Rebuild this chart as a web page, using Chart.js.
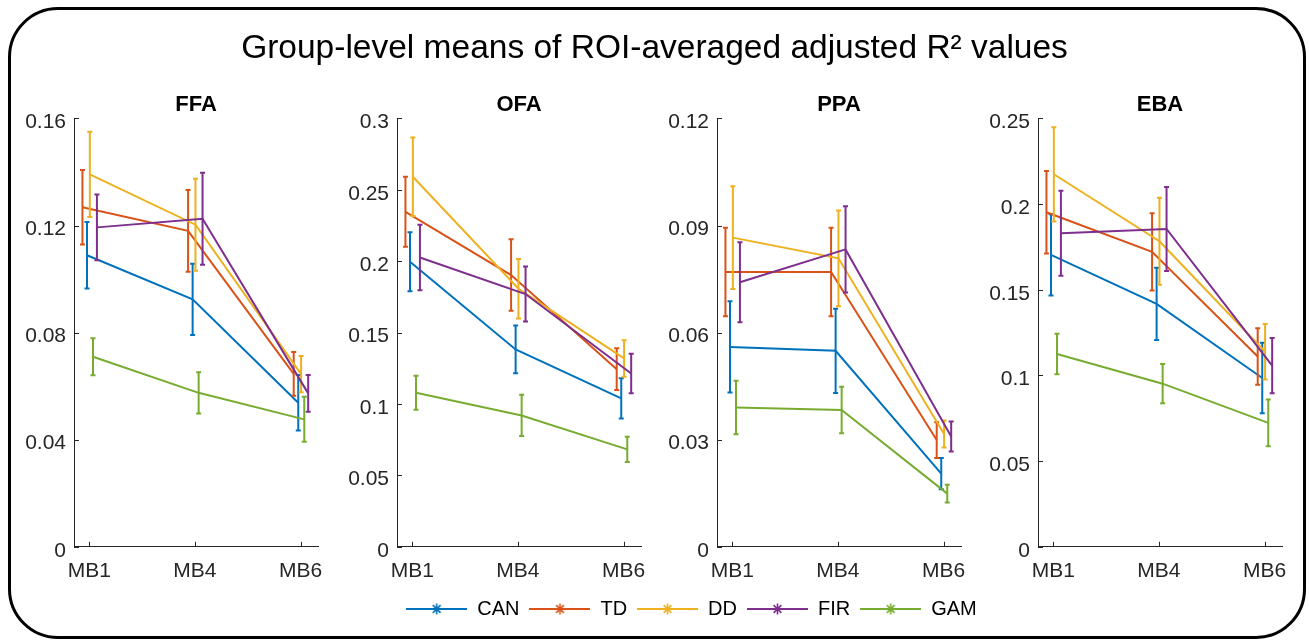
<!DOCTYPE html>
<html lang="en">
<head>
<meta charset="UTF-8">
<title>Group-level means of ROI-averaged adjusted R² values</title>
<script src="https://cdn.jsdelivr.net/npm/chart.js@4.4.1/dist/chart.umd.min.js"></script>
<style>
  body { margin: 0; background: #fff; }
  #figure { position: relative; width: 1309px; height: 640px; overflow: hidden; background: #fff; }
  #frame { position: absolute; left: 8px; top: 7px; width: 1298px; height: 632px; box-sizing: border-box;
           border: 3px solid #000; border-radius: 50px; }
  canvas { position: absolute; }
</style>
</head>
<body>
<div id="figure">
  <div id="frame"></div>
  <canvas id="titleChart" width="1309" height="100" style="left:0;top:0"></canvas>
  <canvas id="ffaChart" width="326" height="516"></canvas>
  <canvas id="ofaChart" width="326" height="516"></canvas>
  <canvas id="ppaChart" width="326" height="516"></canvas>
  <canvas id="ebaChart" width="326" height="516"></canvas>
  <canvas id="legendChart" width="615" height="120" style="left:384px;top:585px"></canvas>
</div>

<script>
const figureTitle = 'Group-level means of ROI-averaged adjusted R² values'
const conditions = ['MB1', 'MB4', 'MB6']
const methods = ['CAN', 'TD', 'DD', 'FIR', 'GAM']

// rows: CAN, TD, DD, FIR, GAM -- columns: MB1, MB4, MB6
const ffaMeans = [
    [0.1089, 0.0924, 0.0538],
    [0.1268, 0.1180, 0.0646],
    [0.1391, 0.1203, 0.0645],
    [0.1193, 0.1225, 0.0573],
    [0.0710, 0.0575, 0.0476]
]
const ffaErrors = [
    [0.0124, 0.0133, 0.0104],
    [0.0139, 0.0153, 0.0082],
    [0.0159, 0.0172, 0.0068],
    [0.0123, 0.0172, 0.0069],
    [0.0069, 0.0077, 0.0084]
]
const ofaMeans = [
    [0.1996, 0.1382, 0.1039],
    [0.2346, 0.1903, 0.1244],
    [0.2591, 0.1807, 0.1319],
    [0.2026, 0.1770, 0.1214],
    [0.1079, 0.0920, 0.0682]
]
const ofaErrors = [
    [0.0206, 0.0167, 0.0141],
    [0.0245, 0.0250, 0.0146],
    [0.0275, 0.0208, 0.0128],
    [0.0230, 0.0193, 0.0138],
    [0.0119, 0.0144, 0.0088]
]
const ppaMeans = [
    [0.0560, 0.0549, 0.0205],
    [0.0770, 0.0770, 0.0299],
    [0.0866, 0.0808, 0.0316],
    [0.0741, 0.0833, 0.0309],
    [0.0390, 0.0383, 0.0149]
]
const ppaErrors = [
    [0.0128, 0.0118, 0.0044],
    [0.0124, 0.0124, 0.0050],
    [0.0144, 0.0134, 0.0038],
    [0.0112, 0.0121, 0.0042],
    [0.0075, 0.0065, 0.0025]
]
const ebaMeans = [
    [0.1704, 0.1418, 0.0985],
    [0.1952, 0.1721, 0.1111],
    [0.2174, 0.1783, 0.1138],
    [0.1830, 0.1855, 0.1057],
    [0.1125, 0.0952, 0.0723]
]
const ebaErrors = [
    [0.0237, 0.0211, 0.0206],
    [0.0241, 0.0225, 0.0165],
    [0.0275, 0.0254, 0.0162],
    [0.0248, 0.0245, 0.0161],
    [0.0118, 0.0115, 0.0136]
]

const ffaTicks = [0, 0.04, 0.08, 0.12, 0.16]
const ofaTicks = [0, 0.05, 0.1, 0.15, 0.2, 0.25, 0.3]
const ppaTicks = [0, 0.03, 0.06, 0.09, 0.12]
const ebaTicks = [0, 0.05, 0.1, 0.15, 0.2, 0.25]

// styling
const FONT = "'Liberation Sans', Arial, Helvetica, sans-serif"
const AXIS = '#262626'
const colors = ['#0072BD', '#D95319', '#EDB120', '#7E2F8E', '#77AC30']
const xShift = [-0.022, -0.065, 0.005, 0.072, 0.035]   // small horizontal dodge per method
const Y_AXIS_W = 72

// vertical error bars with caps, drawn after each line
const errorBars = {
    id: 'errorBars',
    afterDatasetDraw(chart, args) {
        const ds = chart.data.datasets[args.index]
        if (!ds.errors) return
        const {x, y} = chart.scales
        const ctx = chart.ctx
        ctx.save()
        ctx.strokeStyle = ds.borderColor
        ctx.lineWidth = 2
        ctx.beginPath()
        ds.data.forEach((p, i) => {
            const px = x.getPixelForValue(p.x)
            const top = y.getPixelForValue(p.y + ds.errors[i])
            const bot = y.getPixelForValue(p.y - ds.errors[i])
            ctx.moveTo(px, top); ctx.lineTo(px, bot)
            ctx.moveTo(px - 2.5, top); ctx.lineTo(px + 2.5, top)
            ctx.moveTo(px - 2.5, bot); ctx.lineTo(px + 2.5, bot)
        })
        ctx.stroke()
        ctx.restore()
    }
}

// matlab style ticks pointing into the axes
const inwardTicks = {
    id: 'inwardTicks',
    afterDraw(chart) {
        const {ctx, chartArea: a, scales: {x, y}} = chart
        ctx.save()
        ctx.strokeStyle = AXIS
        ctx.lineWidth = 1
        ctx.beginPath()
        y.ticks.forEach(t => {
            const py = Math.round(y.getPixelForValue(t.value)) + 0.5
            ctx.moveTo(a.left, py); ctx.lineTo(a.left + 5, py)
        })
        x.ticks.forEach(t => {
            const px = Math.round(x.getPixelForValue(t.value)) + 0.5
            ctx.moveTo(px, a.bottom); ctx.lineTo(px, a.bottom - 5)
        })
        ctx.stroke()
        ctx.restore()
    }
}

function makePanel(id, name, means, errors, yTicks, axisLeft) {
    const canvas = document.getElementById(id)
    canvas.style.left = (axisLeft - Y_AXIS_W) + 'px'
    canvas.style.top = '80px'
    new Chart(canvas, {
        type: 'line',
        data: {
            datasets: methods.map((m, s) => ({
                label: m,
                data: conditions.map((c, i) => ({x: i + 1 + xShift[s], y: means[s][i]})),
                errors: errors[s],
                borderColor: colors[s],
                backgroundColor: colors[s],
                borderWidth: 2,
                pointRadius: 0,
                order: methods.length - s
            }))
        },
        options: {
            responsive: false,
            animation: false,
            events: [],
            layout: {padding: {left: 0, right: 10, top: 0, bottom: 0}},
            plugins: {
                legend: {display: false},
                tooltip: {enabled: false},
                title: {
                    display: true, text: name, fullSize: false, color: '#000',
                    font: {size: 22, weight: 'bold', family: FONT},
                    padding: {top: 12, bottom: 0}
                }
            },
            scales: {
                x: {
                    type: 'linear', min: 0.855, max: 3.165,
                    afterBuildTicks: sc => { sc.ticks = conditions.map((c, i) => ({value: i + 1})) },
                    afterFit: sc => { sc.paddingLeft = 0; sc.paddingRight = 0 },
                    ticks: {
                        callback: v => conditions[Math.round(v) - 1],
                        color: AXIS, font: {size: 21, family: FONT},
                        padding: 12, maxRotation: 0, autoSkip: false
                    },
                    grid: {display: false, drawTicks: false},
                    border: {display: true, color: AXIS, width: 1}
                },
                y: {
                    min: 0, max: yTicks[yTicks.length - 1],
                    afterBuildTicks: sc => { sc.ticks = yTicks.map(v => ({value: v})) },
                    afterFit: sc => { sc.width = Y_AXIS_W },
                    ticks: {
                        callback: v => String(v),
                        color: AXIS, font: {size: 21, family: FONT},
                        padding: 8, labelOffset: 4
                    },
                    grid: {display: false, drawTicks: false},
                    border: {display: true, color: AXIS, width: 1}
                }
            }
        },
        plugins: [errorBars, inwardTicks]
    })
}

makePanel('ffaChart', 'FFA', ffaMeans, ffaErrors, ffaTicks, 74)
makePanel('ofaChart', 'OFA', ofaMeans, ofaErrors, ofaTicks, 397)
makePanel('ppaChart', 'PPA', ppaMeans, ppaErrors, ppaTicks, 717)
makePanel('ebaChart', 'EBA', ebaMeans, ebaErrors, ebaTicks, 1038)

// figure title
new Chart(document.getElementById('titleChart'), {
    type: 'line',
    data: {datasets: []},
    options: {
        responsive: false, animation: false, events: [],
        scales: {x: {display: false}, y: {display: false}},
        plugins: {
            legend: {display: false},
            tooltip: {enabled: false},
            title: {
                display: true, text: figureTitle, color: '#000',
                font: {size: 33.5, weight: 'normal', family: FONT},
                padding: {top: 29, bottom: 0}
            }
        }
    }
})

// legend swatch: line with asterisk marker
function swatch(color) {
    const c = document.createElement('canvas')
    c.width = 61
    c.height = 16
    const ctx = c.getContext('2d')
    ctx.strokeStyle = color
    ctx.lineWidth = 2
    ctx.beginPath()
    ctx.moveTo(0, 8); ctx.lineTo(61, 8)
    ctx.stroke()
    ctx.lineWidth = 1.6
    Chart.helpers.drawPoint(ctx, {pointStyle: 'star', radius: 5.5, rotation: 0, borderWidth: 1.6}, 30.5, 8)
    return c
}

new Chart(document.getElementById('legendChart'), {
    type: 'line',
    data: {datasets: methods.map((m, s) => ({label: m, data: [], borderColor: colors[s]}))},
    options: {
        responsive: false, animation: false, events: [],
        layout: {padding: {top: 4}},
        scales: {x: {display: false}, y: {display: false}},
        plugins: {
            tooltip: {enabled: false},
            legend: {
                display: true, position: 'top',
                labels: {
                    color: '#000', font: {size: 20, family: FONT},
                    usePointStyle: true, pointStyleWidth: 61, boxHeight: 20, padding: 10,
                    generateLabels: chart => chart.data.datasets.map((ds, i) => ({
                        text: ds.label, pointStyle: swatch(ds.borderColor),
                        fillStyle: ds.borderColor, strokeStyle: ds.borderColor,
                        lineWidth: 0, hidden: false, datasetIndex: i
                    }))
                }
            }
        }
    }
})
</script>
</body>
</html>
